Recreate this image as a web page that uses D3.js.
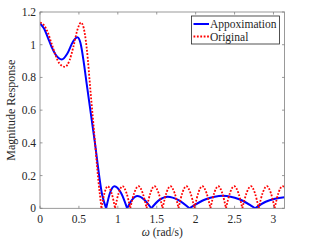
<!DOCTYPE html>
<html><head><meta charset="utf-8">
<script src="https://cdn.jsdelivr.net/npm/d3@7/dist/d3.min.js"></script>
<style>body{margin:0;background:#fff}svg{display:block}text{font-family:"Liberation Serif","Times New Roman",serif;fill:#262626}</style>
</head><body>
<script>
// ---- data ----
const xTicks = [0, 0.5, 1, 1.5, 2, 2.5, 3];
const yTicks = [0, 0.2, 0.4, 0.6, 0.8, 1, 1.2];
const seriesNames = ["Appoximation", "Original"];
// Each series is split into arches at its zeros: [omega, magnitude]
const approxPass = [[0,1.13],[0.05,1.10],[0.1,1.045],[0.15,0.985],[0.2,0.94],[0.28,0.91],[0.35,0.945],[0.42,1.015],[0.48,1.045],[0.52,1.01],[0.56,0.90],[0.6,0.76],[0.7,0.42],[0.8,0.08],[0.85,0]];
const approxStop = [
  [[0.85,0],[0.9,0.095],[0.957,0.135],[1.04,0.095],[1.12,0]],
  [[1.12,0],[1.185,0.053],[1.25,0.075],[1.34,0.053],[1.43,0]],
  [[1.43,0],[1.53,0.05],[1.64,0.071],[1.78,0.05],[1.92,0]],
  [[1.92,0],[2.13,0.055],[2.35,0.077],[2.56,0.055],[2.765,0]],
  [[2.765,0],[2.9,0.04],[3.02,0.058],[3.1416,0.067]]
];
const origPass = [[0,1.135],[0.05,1.12],[0.1,1.075],[0.15,1.005],[0.2,0.935],[0.25,0.885],[0.32,0.865],[0.38,0.905],[0.43,0.99],[0.48,1.09],[0.526,1.135],[0.56,1.105],[0.6,0.98],[0.65,0.71],[0.7,0.44],[0.75,0.17],[0.79,0]];
const origStop = [
  [[0.79,0],[0.83,0.095],[0.87,0.135],[0.918,0.095],[0.965,0]],
  [[0.965,0],[1.012,0.095],[1.06,0.135],[1.11,0.095],[1.16,0]],
  [[1.16,0],[1.212,0.095],[1.265,0.135],[1.318,0.095],[1.37,0]],
  [[1.37,0],[1.42,0.095],[1.47,0.135],[1.522,0.095],[1.575,0]],
  [[1.575,0],[1.625,0.095],[1.675,0.135],[1.728,0.095],[1.78,0]],
  [[1.78,0],[1.83,0.095],[1.88,0.135],[1.932,0.095],[1.985,0]],
  [[1.985,0],[2.035,0.095],[2.085,0.135],[2.138,0.095],[2.19,0]],
  [[2.19,0],[2.24,0.095],[2.29,0.135],[2.34,0.095],[2.39,0]],
  [[2.39,0],[2.442,0.095],[2.495,0.135],[2.548,0.095],[2.60,0]],
  [[2.60,0],[2.655,0.095],[2.71,0.135],[2.76,0.095],[2.81,0]],
  [[2.81,0],[2.862,0.095],[2.915,0.135],[2.965,0.095],[3.015,0]],
  [[3.015,0],[3.065,0.095],[3.115,0.135],[3.1416,0.13]]
];

// ---- layout ----
const W = 314, H = 242;
const L = 40, R = 284.5, T = 12, B = 208.3;
const svg = d3.select("body").append("svg").attr("width", W).attr("height", H);
const x = d3.scaleLinear().domain([0, Math.PI]).range([L, R]);
const y = d3.scaleLinear().domain([0, 1.2]).range([B, T]);
const axisColor = "#808080";
const fs = "11.5px";

const clip = svg.append("clipPath").attr("id","c").append("rect").attr("x",L).attr("y",T-3).attr("width",R-L).attr("height",B-T+3);

const line = d3.line().x(d => x(d[0])).y(d => y(d[1])).curve(d3.curveMonotoneX);
const g = svg.append("g").attr("clip-path","url(#c)");
const blueSegs = [approxPass, ...approxStop];
const redSegs = [origPass, ...origStop];
g.selectAll(".b").data(blueSegs).join("path").attr("d", line)
  .attr("fill","none").attr("stroke","#0000ff").attr("stroke-width",2).attr("stroke-linejoin","round");
g.selectAll(".r").data(redSegs).join("path").attr("d", line)
  .attr("fill","none").attr("stroke","#ff0000").attr("stroke-width",1.8).attr("stroke-dasharray","1.8,1.6");

// axes box and ticks
const ax = svg.append("g");
const tl = 2.5;
ax.append("rect").attr("x",L).attr("y",T).attr("width",R-L).attr("height",B-T)
  .attr("fill","none").attr("stroke",axisColor).attr("stroke-width",0.8);
xTicks.forEach(v => {
  ax.append("line").attr("x1",x(v)).attr("x2",x(v)).attr("y1",B).attr("y2",B-tl).attr("stroke",axisColor).attr("stroke-width",0.8);
  ax.append("line").attr("x1",x(v)).attr("x2",x(v)).attr("y1",T).attr("y2",T+tl).attr("stroke",axisColor).attr("stroke-width",0.8);
  ax.append("text").attr("x",x(v)).attr("y",222.5).attr("text-anchor","middle").style("font-size",fs).text(v);
});
yTicks.forEach(v => {
  ax.append("line").attr("x1",L).attr("x2",L+tl).attr("y1",y(v)).attr("y2",y(v)).attr("stroke",axisColor).attr("stroke-width",0.8);
  ax.append("line").attr("x1",R).attr("x2",R-tl).attr("y1",y(v)).attr("y2",y(v)).attr("stroke",axisColor).attr("stroke-width",0.8);
  ax.append("text").attr("x",36).attr("y",y(v)).attr("dy","0.35em").attr("text-anchor","end").style("font-size",fs).text(v);
});

// axis labels
const xl = svg.append("text").attr("x",(L+R)/2).attr("y",236).attr("text-anchor","middle").style("font-size",fs);
xl.append("tspan").style("font-style","italic").text("ω");
xl.append("tspan").text(" (rad/s)");
svg.append("text").attr("transform",`translate(15,${(T+B)/2}) rotate(-90)`).attr("text-anchor","middle").style("font-size","12px").text("Magnitude Response");

// legend
const lg = svg.append("g");
lg.append("rect").attr("x",191.5).attr("y",16).attr("width",88).attr("height",28)
  .attr("fill","#fff").attr("stroke","#262626").attr("stroke-width",0.8);
const styles = [{c:"#0000ff", w:2, d:null},{c:"#ff0000", w:1.8, d:"1.8,1.6"}];
seriesNames.forEach((n,i) => {
  const yy = 24 + i*12.5;
  const l = lg.append("line").attr("x1",193.5).attr("x2",209).attr("y1",yy).attr("y2",yy)
    .attr("stroke",styles[i].c).attr("stroke-width",styles[i].w);
  if (styles[i].d) l.attr("stroke-dasharray", styles[i].d);
  lg.append("text").attr("x",210).attr("y",yy).attr("dy","0.35em").style("font-size",fs).text(n);
});
</script>
</body></html>
